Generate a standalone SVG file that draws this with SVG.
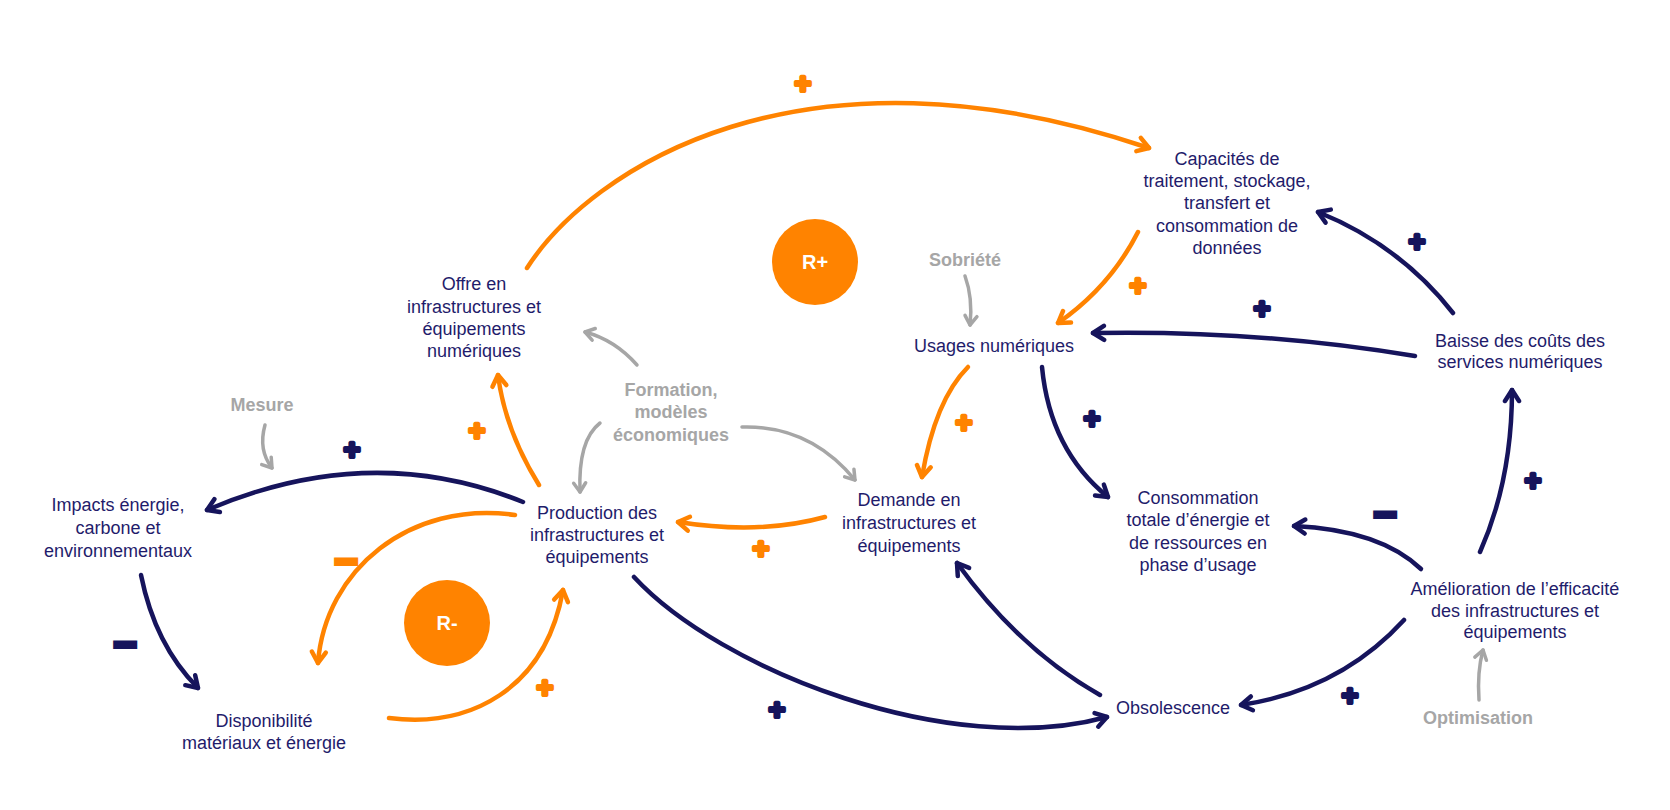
<svg xmlns="http://www.w3.org/2000/svg" width="1670" height="810" viewBox="0 0 1670 810">
<style>
.t{font-family:"Liberation Sans",Arial,sans-serif;font-size:18px;fill:#1f1c6b;text-anchor:middle}
.g{font-family:"Liberation Sans",Arial,sans-serif;font-size:18px;font-weight:bold;fill:#a6a6a6;text-anchor:middle}
.r{font-family:"Liberation Sans",Arial,sans-serif;font-size:20px;font-weight:bold;fill:#ffffff;text-anchor:middle}
.p{font-family:"Liberation Sans",Arial,sans-serif;font-size:28px;font-weight:bold;text-anchor:middle;stroke-width:4;stroke-linejoin:round}
.m{font-family:"Liberation Sans",Arial,sans-serif;font-size:40px;font-weight:bold;text-anchor:middle;stroke-width:4;stroke-linejoin:miter}
.on{fill:#ff8300;stroke:#ff8300}
.nv{fill:#16145c;stroke:#16145c}
.cn path{fill:none;stroke-linecap:round}
.cn .o{stroke:#ff8300;stroke-width:4.5;marker-end:url(#ao)}
.cn .n{stroke:#16145c;stroke-width:4.5;marker-end:url(#an)}
.cn .s{stroke:#a6a6a6;stroke-width:3.5;marker-end:url(#ag)}
.loop{fill:#ff8300}
</style>
<defs>
<marker id="ao" viewBox="-16 -10 20 20" markerWidth="20" markerHeight="20" refX="0" refY="0" orient="auto" markerUnits="userSpaceOnUse"><path d="M-11,-7 L0,0 L-11,7" fill="none" stroke="#ff8300" stroke-width="4.5" stroke-linecap="round" stroke-linejoin="round"/></marker>
<marker id="an" viewBox="-16 -10 20 20" markerWidth="20" markerHeight="20" refX="0" refY="0" orient="auto" markerUnits="userSpaceOnUse"><path d="M-11,-7 L0,0 L-11,7" fill="none" stroke="#16145c" stroke-width="4.5" stroke-linecap="round" stroke-linejoin="round"/></marker>
<marker id="ag" viewBox="-14 -9 18 18" markerWidth="18" markerHeight="18" refX="0" refY="0" orient="auto" markerUnits="userSpaceOnUse"><path d="M-9,-6 L0,0 L-9,6" fill="none" stroke="#a6a6a6" stroke-width="3.5" stroke-linecap="round" stroke-linejoin="round"/></marker>
</defs>
<rect width="1670" height="810" fill="#ffffff"/>

<g id="connectors" class="cn">
<path class="o" d="M527,268 C590,170 800,30 1149,148"/>
<path class="o" d="M1138,232 Q1110,287 1058,323"/>
<path class="s" d="M965,276 Q973,298 970,325"/>
<path class="n" d="M1415,356 Q1260,330 1093,333"/>
<path class="n" d="M1453,313 Q1400,245 1318,212"/>
<path class="n" d="M1480,552 Q1512,480 1512,390"/>
<path class="n" d="M1421,569 Q1380,530 1294,526"/>
<path class="n" d="M1404,620 Q1340,690 1241,705"/>
<path class="s" d="M1479,700 Q1477,672 1483,650"/>
<path class="n" d="M1042,367 Q1050,450 1108,497"/>
<path class="o" d="M968,367 Q935,400 922,477"/>
<path class="s" d="M742,427 Q810,425 855,480"/>
<path class="s" d="M637,365 Q615,340 585,332"/>
<path class="s" d="M600,423 Q578,440 580,492"/>
<path class="o" d="M539,485 Q505,430 498,375"/>
<path class="n" d="M523,502 Q370,440 207,510"/>
<path class="s" d="M265,425 Q258,450 272,468"/>
<path class="n" d="M141,575 Q155,645 198,688"/>
<path class="o" d="M515,515 C410,500 325,570 318,663"/>
<path class="o" d="M389,718 C470,728 545,690 563,590"/>
<path class="o" d="M825,517 Q760,535 678,522"/>
<path class="n" d="M634,577 C720,670 950,760 1107,717"/>
<path class="n" d="M1100,695 Q1020,650 957,563"/>
</g>

<g id="signs">
<text class="p on" x="803" y="93">+</text>
<text class="p on" x="1138" y="295">+</text>
<text class="p on" x="477" y="440">+</text>
<text class="p on" x="964" y="432">+</text>
<text class="p on" x="761" y="558">+</text>
<text class="p on" x="545" y="697">+</text>
<text class="m on" x="346" y="575">−</text>
<text class="p nv" x="352" y="459">+</text>
<text class="p nv" x="1262" y="318">+</text>
<text class="p nv" x="1417" y="251">+</text>
<text class="p nv" x="1092" y="428">+</text>
<text class="p nv" x="1533" y="490">+</text>
<text class="p nv" x="1350" y="705">+</text>
<text class="p nv" x="777" y="719">+</text>
<text class="m nv" x="125" y="658">−</text>
<text class="m nv" x="1385" y="528">−</text>
</g>

<g id="loop-rplus"><circle class="loop" cx="815" cy="262" r="43"/><text class="r" x="815" y="269">R+</text></g>
<g id="loop-rminus"><circle class="loop" cx="447" cy="623" r="43"/><text class="r" x="447" y="630">R-</text></g>

<g id="node-offre"><text class="t" x="474" y="290">Offre en</text><text class="t" x="474" y="313">infrastructures et</text><text class="t" x="474" y="335">équipements</text><text class="t" x="474" y="357">numériques</text></g>
<g id="node-capacites"><text class="t" x="1227" y="165">Capacités de</text><text class="t" x="1227" y="187">traitement, stockage,</text><text class="t" x="1227" y="209">transfert et</text><text class="t" x="1227" y="232">consommation de</text><text class="t" x="1227" y="254">données</text></g>
<g id="node-usages"><text class="t" x="994" y="352">Usages numériques</text></g>
<g id="node-baisse"><text class="t" x="1520" y="347">Baisse des coûts des</text><text class="t" x="1520" y="368">services numériques</text></g>
<g id="node-impacts"><text class="t" x="118" y="511">Impacts énergie,</text><text class="t" x="118" y="534">carbone et</text><text class="t" x="118" y="557">environnementaux</text></g>
<g id="node-disponibilite"><text class="t" x="264" y="727">Disponibilité</text><text class="t" x="264" y="749">matériaux et énergie</text></g>
<g id="node-production"><text class="t" x="597" y="519">Production des</text><text class="t" x="597" y="541">infrastructures et</text><text class="t" x="597" y="563">équipements</text></g>
<g id="node-demande"><text class="t" x="909" y="506">Demande en</text><text class="t" x="909" y="529">infrastructures et</text><text class="t" x="909" y="552">équipements</text></g>
<g id="node-consommation"><text class="t" x="1198" y="504">Consommation</text><text class="t" x="1198" y="526">totale d’énergie et</text><text class="t" x="1198" y="549">de ressources en</text><text class="t" x="1198" y="571">phase d’usage</text></g>
<g id="node-amelioration"><text class="t" x="1515" y="595">Amélioration de l’efficacité</text><text class="t" x="1515" y="617">des infrastructures et</text><text class="t" x="1515" y="638">équipements</text></g>
<g id="node-obsolescence"><text class="t" x="1173" y="714">Obsolescence</text></g>
<g id="lever-sobriete"><text class="g" x="965" y="266">Sobriété</text></g>
<g id="lever-mesure"><text class="g" x="262" y="411">Mesure</text></g>
<g id="lever-formation"><text class="g" x="671" y="396">Formation,</text><text class="g" x="671" y="418">modèles</text><text class="g" x="671" y="441">économiques</text></g>
<g id="lever-optimisation"><text class="g" x="1478" y="724">Optimisation</text></g>
</svg>
